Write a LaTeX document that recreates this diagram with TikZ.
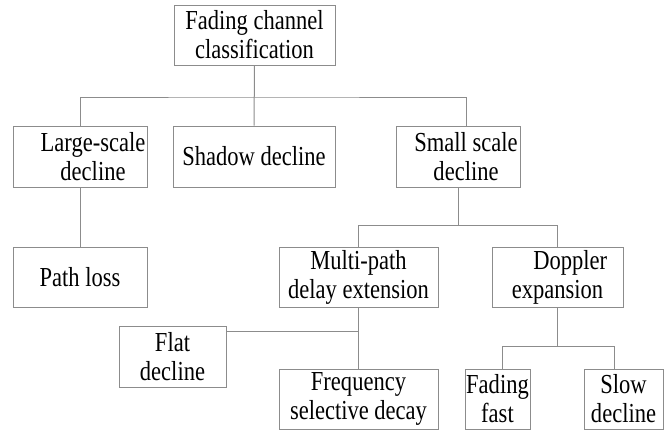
\documentclass[tikz,border=0pt]{standalone}
\usepackage{fontspec}
\setmainfont[FakeStretch=0.82]{Liberation Serif}
\usetikzlibrary{positioning}

\tikzset{every picture/.style={line width=0.75pt}}
\tikzset{
  catbox/.style={draw={rgb,255:red,140;green,140;blue,140}, inner sep=0pt, align=center,
    font=\fontsize{20.6pt}{21.75pt}\selectfont},
  link/.style={draw={rgb,255:red,140;green,140;blue,140}}
}

\begin{document}
\begin{tikzpicture}[x=0.75pt,y=0.75pt,yscale=-1,xscale=1]
\useasboundingbox (0,0) rectangle (671,430);

%Shape: Rectangle [root]
\node [catbox, minimum width=120.75pt, minimum height=45pt] (root) at (254.5,35) {Fading channel\\classification};
%Shape: Rectangle [first level]
\node [catbox, minimum width=100.5pt, minimum height=45.75pt] (large) at (80,156.5) {\hspace*{19.5pt}Large-scale\\\hspace*{19.5pt}decline};
\node [catbox, minimum width=121.5pt, minimum height=45.75pt] (shadow) at (254,156.5) {Shadow decline};
\node [catbox, minimum width=93pt, minimum height=45.75pt] (small) at (458,156.5) {\hspace*{12pt}Small scale\\\hspace*{12pt}decline};
%Shape: Rectangle [second level]
\node [catbox, minimum width=100.5pt, minimum height=45pt] (path) at (80,277) {Path loss};
\node [catbox, minimum width=119.25pt, minimum height=45pt] (multi) at (358.5,277) {Multi-path\\delay extension};
\node [catbox, minimum width=98.25pt, minimum height=45pt] (doppler) at (557.5,277) {\hspace*{19pt}Doppler\\expansion};
%Shape: Rectangle [third level]
\node [catbox, minimum width=80.25pt, minimum height=45.75pt] (flat) at (172.5,356.5) {Flat\\decline};
\node [catbox, minimum width=119.25pt, minimum height=45pt] (freq) at (358.5,399) {Frequency\\selective decay};
\node [catbox, minimum width=48.75pt, minimum height=45pt] (fast) at (497.5,399) {Fading\\fast};
\node [catbox, minimum width=59.25pt, minimum height=45pt] (slow) at (623.5,399) {Slow\\decline};

%Straight Lines [bus points]
\coordinate (bus1) at (254.5,97);
\coordinate (smallin) at (466,126);
\path (small.south) ++(0,38) coordinate (bus2);
\path (doppler.south) ++(0,39) coordinate (bus3);

%Straight Lines [root to first level]
\draw [link] (root) -- (shadow);
\draw [link] (large.north) |- (bus1) -| (smallin);
%Straight Lines [first level to second level]
\draw [link] (large) -- (path);
\draw [link] (small.south) -- (bus2);
\draw [link] (multi.north) |- (bus2) -| (doppler.north);
%Straight Lines [second level to third level]
\draw [link] (multi) -- (freq);
\draw [link] ([yshift=-18.5pt]flat.east) -- ([yshift=-18.5pt]flat.east -| multi.south);
\draw [link] (doppler.south) -- (bus3);
\draw [link] ([xshift=4pt]fast.north) |- (bus3) -| ([xshift=-7pt]slow.north);

\end{tikzpicture}
\end{document}
